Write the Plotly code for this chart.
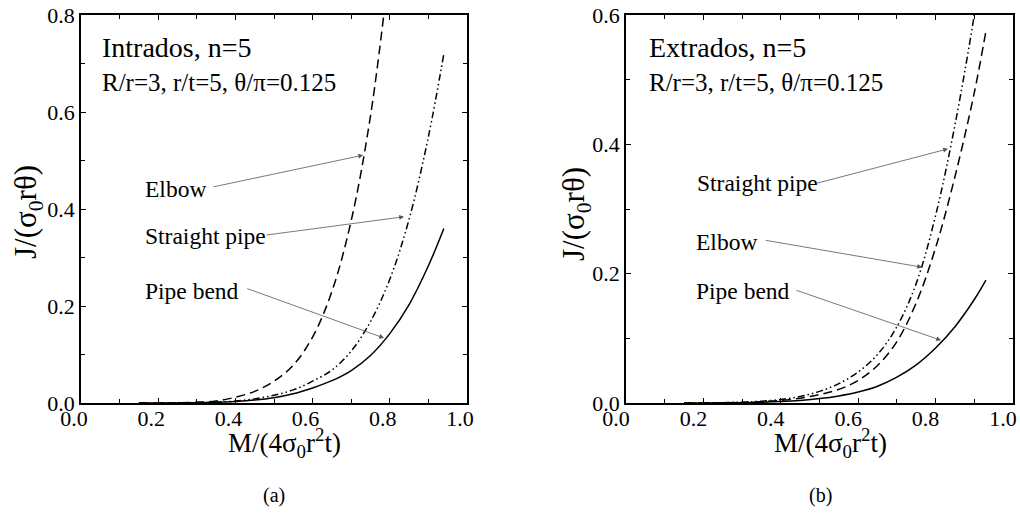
import plotly.graph_objects as go

# ---------------- data ----------------
# Panel (a) Intrados
M_elbow_a = [0.15, 0.2, 0.25, 0.3, 0.35, 0.4, 0.45, 0.5, 0.55, 0.6, 0.65, 0.7, 0.75, 0.8]
J_elbow_a = [0.00005, 0.0001, 0.0005, 0.0015, 0.004, 0.012, 0.024, 0.045, 0.078, 0.136, 0.230, 0.376, 0.592, 0.906]

M_a = [0.15, 0.2, 0.25, 0.3, 0.35, 0.4, 0.45, 0.5, 0.55, 0.6, 0.65, 0.7, 0.75, 0.8, 0.85, 0.9, 0.94]
J_straight_a = [0.00005, 0.0001, 0.0003, 0.0008, 0.0018, 0.004, 0.0085, 0.016, 0.027, 0.045, 0.068, 0.107, 0.168, 0.255, 0.379, 0.549, 0.72]
J_bend_a = [0.00005, 0.0001, 0.0002, 0.0006, 0.0014, 0.003, 0.006, 0.011, 0.019, 0.031, 0.046, 0.067, 0.098, 0.143, 0.203, 0.283, 0.36]

# Panel (b) Extrados
M_b = [0.15, 0.2, 0.25, 0.3, 0.35, 0.4, 0.45, 0.5, 0.55, 0.6, 0.65, 0.7, 0.75, 0.8, 0.85, 0.9, 0.93]
J_straight_b = [0.0001, 0.0002, 0.0005, 0.0013, 0.0028, 0.0055, 0.010, 0.018, 0.030, 0.048, 0.075, 0.118, 0.185, 0.29, 0.43, 0.60, 0.72]
J_elbow_b = [0.00005, 0.0001, 0.0004, 0.0009, 0.002, 0.004, 0.0075, 0.013, 0.021, 0.035, 0.058, 0.095, 0.155, 0.24, 0.35, 0.48, 0.575]
J_bend_b = [0.00005, 0.0001, 0.0002, 0.0005, 0.0011, 0.0022, 0.004, 0.0068, 0.011, 0.017, 0.026, 0.04, 0.059, 0.085, 0.118, 0.16, 0.19]

x_ticks = [0.0, 0.2, 0.4, 0.6, 0.8, 1.0]
y_ticks_a = [0.0, 0.2, 0.4, 0.6, 0.8]
y_ticks_b = [0.0, 0.2, 0.4, 0.6]

FONT = "Liberation Serif"
DASH_ELBOW = "9px,5px"
DASH_STRAIGHT = "7px,3px,1.5px,3px,1.5px,3px"

fig = go.Figure()

def add_line(x, y, xa, ya, dash):
    fig.add_trace(go.Scatter(x=x, y=y, xaxis=xa, yaxis=ya, mode="lines",
                             line=dict(color="black", width=1.5, dash=dash, shape="spline"),
                             showlegend=False, hoverinfo="skip"))

add_line(M_elbow_a, J_elbow_a, "x", "y", DASH_ELBOW)
add_line(M_a, J_straight_a, "x", "y", DASH_STRAIGHT)
add_line(M_a, J_bend_a, "x", "y", "solid")

add_line(M_b, J_straight_b, "x2", "y2", DASH_STRAIGHT)
add_line(M_b, J_elbow_b, "x2", "y2", DASH_ELBOW)
add_line(M_b, J_bend_b, "x2", "y2", "solid")

W, H = 1020, 518
def px_x(p):
    return p / W
def px_y(p):
    return (H - p) / H

ax_common = dict(showline=True, linecolor="black", linewidth=1.5, mirror="ticks",
                 ticks="inside", ticklen=5, tickwidth=1, tickcolor="black",
                 showgrid=False, zeroline=False, tickformat=".1f", automargin=False,
                 ticklabeloverflow="allow",
                 tickfont=dict(family=FONT, size=22, color="black"))
minor = dict(ticks="inside", ticklen=4, dtick=0.1, tickcolor="black")

fig.update_layout(
    width=W, height=H, autosize=False,
    margin=dict(l=0, r=0, t=0, b=0, pad=0, autoexpand=False),
    paper_bgcolor="white", plot_bgcolor="white", showlegend=False,
    font=dict(family=FONT, color="black"),
    xaxis=dict(domain=[px_x(81), px_x(467)], range=[0, 1], tickvals=x_ticks, anchor="y",
               ticklabelshift=-7, ticklabelstandoff=-5, minor=minor, **ax_common),
    yaxis=dict(domain=[px_y(403), px_y(15)], range=[0, 0.8], tickvals=y_ticks_a, anchor="x",
               minor=minor, **ax_common),
    xaxis2=dict(domain=[px_x(626), px_x(1013)], range=[0, 1], tickvals=x_ticks, anchor="y2",
                ticklabelshift=-10, ticklabelstandoff=-5, minor=minor, **ax_common),
    yaxis2=dict(domain=[px_y(403), px_y(15)], range=[0, 0.6], tickvals=y_ticks_b, anchor="x2",
                minor=minor, **ax_common),
)

ann = []
def text(x, y, s, size, xref="x", yref="y", xanchor="left", angle=0):
    ann.append(dict(x=x, y=y, xref=xref, yref=yref, text=s, showarrow=False,
                    xanchor=xanchor, yanchor="middle", textangle=angle,
                    font=dict(family=FONT, size=size, color="black")))

def arrow(xh, yh, xt, yt, xref, yref):
    ann.append(dict(x=xh, y=yh, ax=xt, ay=yt, xref=xref, yref=yref, axref=xref, ayref=yref,
                    text="", showarrow=True, arrowhead=2, arrowsize=1.2, arrowwidth=0.8,
                    arrowcolor="#555", standoff=0, startstandoff=0))

# Panel (a)
text(0.049, 0.734, "Intrados, n=5", 28)
text(0.049, 0.660, "R/r=3, r/t=5, θ/π=0.125", 25)
text(0.161, 0.441, "Elbow", 23.5)
text(0.161, 0.344, "Straight pipe", 23.5)
text(0.161, 0.231, "Pipe bend", 23.5)
arrow(0.731, 0.511, 0.339, 0.445, "x", "y")
arrow(0.837, 0.384, 0.477, 0.346, "x", "y")
arrow(0.785, 0.134, 0.427, 0.237, "x", "y")

# Panel (b)
text(0.054, 0.549, "Extrados, n=5", 28, "x2", "y2")
text(0.054, 0.495, "R/r=3, r/t=5, θ/π=0.125", 25, "x2", "y2")
text(0.178, 0.340, "Straight pipe", 23.5, "x2", "y2")
text(0.176, 0.249, "Elbow", 23.5, "x2", "y2")
text(0.176, 0.173, "Pipe bend", 23.5, "x2", "y2")
arrow(0.832, 0.393, 0.488, 0.339, "x2", "y2")
arrow(0.765, 0.210, 0.357, 0.252, "x2", "y2")
arrow(0.814, 0.097, 0.437, 0.175, "x2", "y2")

# Axis titles
YT = "J/(σ<sub>0</sub>rθ)"
XT = "M/(4σ<sub>0</sub>r<sup>2</sup>t)"
text(px_x(28), px_y(212), YT, 31, "paper", "paper", "center", -90)
text(px_x(576), px_y(214), YT, 31, "paper", "paper", "center", -90)
text(px_x(284), px_y(443), XT, 27, "paper", "paper", "center")
text(px_x(830), px_y(443), XT, 27, "paper", "paper", "center")
text(px_x(274), px_y(495), "(a)", 20, "paper", "paper", "center")
text(px_x(820), px_y(495), "(b)", 20, "paper", "paper", "center")

fig.update_layout(annotations=ann)
fig.write_html("out.html",
               config={"displayModeBar": False},
               post_script="document.body.style.margin='0';document.body.style.overflow='hidden';")
